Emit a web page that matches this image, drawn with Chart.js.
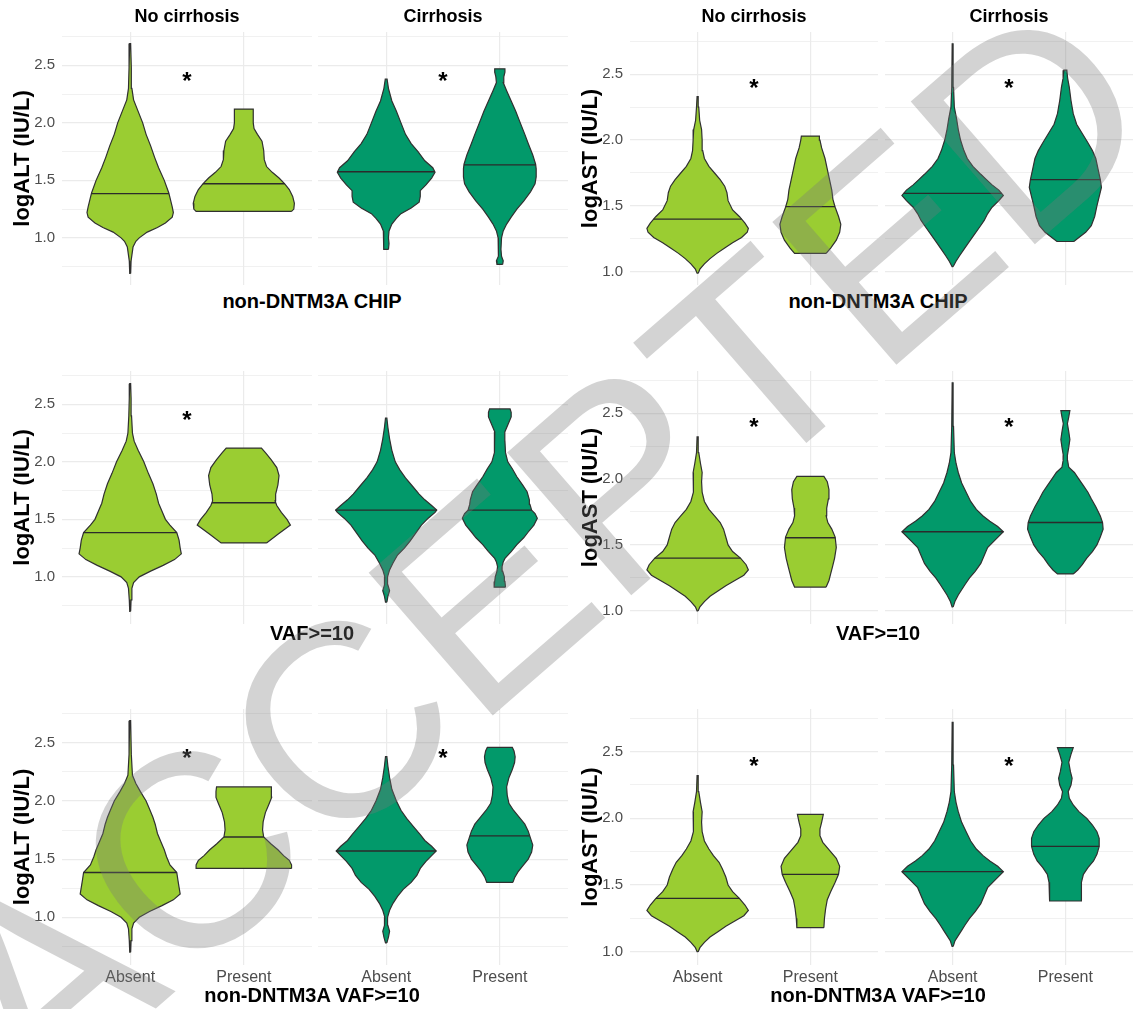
<!DOCTYPE html>
<html>
<head>
<meta charset="utf-8">
<script src="https://cdn.jsdelivr.net/npm/chart.js@4.4.1/dist/chart.umd.min.js"></script>
<style>
  html, body { margin: 0; padding: 0; background: #fff; }
  #fig { position: relative; width: 1135px; height: 1009px; overflow: hidden; font-family: "Liberation Sans", Arial, sans-serif; }
  #fig canvas { position: absolute; }
  .xtitle { position: absolute; font-weight: bold; font-size: 20px; color: #000; transform: translate(-50%, -50%); white-space: nowrap; }
  #stamp { position: absolute; left: 540px; top: 548px; transform: translate(-50%, -50%) rotate(-41deg);
           font-size: 275px; line-height: 1; color: rgba(120, 120, 120, 0.33); white-space: nowrap; pointer-events: none; z-index: 5; }
</style>
</head>
<body>
<div id="fig"></div>
<script>
// facets and groups
const facetNames = ['No cirrhosis', 'Cirrhosis'];
const groupNames = ['Absent', 'Present'];
const panelTitles = ['non-DNTM3A CHIP', 'VAF>=10', 'non-DNTM3A VAF>=10'];
const altTicks = [0.75, 1, 1.25, 1.5, 1.75, 2, 2.25, 2.5, 2.75];
const astTicks = [1, 1.25, 1.5, 1.75, 2, 2.25, 2.5, 2.75];

// violin outlines: [log value, half width in category units]
// logALT, non-DNTM3A CHIP
const altChipNoAbs = [[0.69,0.004],[0.8,0.008],[0.92,0.025],[0.97,0.05],[1.0,0.08],[1.05,0.15],[1.09,0.24],[1.13,0.31],[1.18,0.37],[1.22,0.38],[1.27,0.37],[1.33,0.355],[1.39,0.34],[1.5,0.3],[1.61,0.25],[1.7,0.215],[1.8,0.18],[1.9,0.14],[2.0,0.11],[2.1,0.07],[2.2,0.03],[2.3,0.015],[2.48,0.01],[2.69,0.004]];
const altChipNoPre = [[1.23,0.42],[1.25,0.44],[1.3,0.445],[1.36,0.43],[1.42,0.4],[1.47,0.36],[1.52,0.31],[1.57,0.25],[1.62,0.2],[1.68,0.18],[1.76,0.175],[1.84,0.16],[1.9,0.12],[1.95,0.09],[2.0,0.083],[2.12,0.083]];
const altChipCirAbs = [[0.9,0.02],[0.95,0.025],[1.0,0.02],[1.06,0.025],[1.12,0.05],[1.17,0.09],[1.21,0.13],[1.26,0.22],[1.31,0.29],[1.36,0.3],[1.41,0.3],[1.46,0.35],[1.52,0.4],[1.57,0.43],[1.61,0.41],[1.67,0.34],[1.75,0.28],[1.82,0.22],[1.9,0.17],[2.0,0.13],[2.1,0.09],[2.19,0.05],[2.3,0.02],[2.38,0.008]];
const altChipCirPre = [[0.77,0.025],[0.8,0.03],[0.84,0.015],[0.9,0.01],[1.0,0.015],[1.06,0.03],[1.12,0.06],[1.18,0.1],[1.25,0.15],[1.32,0.21],[1.4,0.27],[1.47,0.31],[1.53,0.32],[1.6,0.32],[1.64,0.315],[1.72,0.29],[1.82,0.25],[1.9,0.22],[2.0,0.18],[2.1,0.14],[2.19,0.1],[2.28,0.06],[2.35,0.03],[2.4,0.035],[2.44,0.045],[2.47,0.045]];
const altChipMedians = [1.385, 1.47, 1.575, 1.635];

// logAST, non-DNTM3A CHIP
const astChipNoAbs = [[0.99,0.005],[1.02,0.02],[1.06,0.06],[1.1,0.11],[1.14,0.17],[1.18,0.24],[1.22,0.31],[1.26,0.39],[1.3,0.44],[1.33,0.45],[1.37,0.42],[1.42,0.37],[1.47,0.31],[1.54,0.27],[1.6,0.26],[1.65,0.24],[1.7,0.2],[1.75,0.15],[1.8,0.1],[1.86,0.06],[1.92,0.045],[2.0,0.04],[2.08,0.035],[2.15,0.018],[2.25,0.01],[2.33,0.005]];
const astChipNoPre = [[1.14,0.14],[1.18,0.18],[1.24,0.23],[1.3,0.26],[1.36,0.27],[1.42,0.25],[1.49,0.22],[1.55,0.2],[1.62,0.19],[1.7,0.17],[1.78,0.15],[1.86,0.13],[1.94,0.1],[2.0,0.085],[2.03,0.08]];
const astChipCirAbs = [[1.04,0.005],[1.08,0.03],[1.12,0.06],[1.17,0.1],[1.22,0.14],[1.28,0.19],[1.34,0.24],[1.39,0.28],[1.44,0.31],[1.49,0.35],[1.54,0.41],[1.58,0.45],[1.62,0.41],[1.66,0.35],[1.7,0.3],[1.74,0.25],[1.8,0.18],[1.86,0.13],[1.92,0.1],[2.0,0.07],[2.08,0.05],[2.16,0.035],[2.25,0.015],[2.4,0.008],[2.73,0.004]];
const astChipCirPre = [[1.23,0.075],[1.26,0.12],[1.3,0.18],[1.35,0.23],[1.42,0.26],[1.5,0.28],[1.57,0.3],[1.64,0.32],[1.7,0.31],[1.78,0.29],[1.86,0.27],[1.92,0.24],[1.98,0.2],[2.05,0.15],[2.12,0.1],[2.2,0.07],[2.3,0.05],[2.4,0.035],[2.47,0.02],[2.53,0.013]];
const astChipMedians = [1.40, 1.495, 1.595, 1.70];

// logALT, VAF>=10
const altVafNoAbs = [[0.7,0.004],[0.8,0.008],[0.9,0.015],[0.95,0.03],[1.0,0.08],[1.05,0.18],[1.1,0.29],[1.15,0.39],[1.2,0.45],[1.25,0.44],[1.32,0.43],[1.385,0.41],[1.45,0.35],[1.5,0.31],[1.57,0.28],[1.64,0.25],[1.72,0.23],[1.81,0.2],[1.9,0.16],[2.0,0.12],[2.1,0.07],[2.18,0.035],[2.25,0.02],[2.4,0.012],[2.55,0.008],[2.68,0.004]];
const altVafNoPre = [[1.295,0.2],[1.37,0.3],[1.45,0.41],[1.5,0.38],[1.56,0.33],[1.62,0.29],[1.66,0.275],[1.72,0.28],[1.8,0.3],[1.88,0.31],[1.95,0.29],[2.02,0.24],[2.08,0.19],[2.12,0.155]];
const altVafCirAbs = [[0.78,0.006],[0.83,0.015],[0.88,0.03],[0.93,0.015],[1.0,0.012],[1.06,0.03],[1.12,0.06],[1.19,0.1],[1.25,0.16],[1.31,0.21],[1.38,0.26],[1.45,0.31],[1.51,0.37],[1.56,0.43],[1.58,0.445],[1.62,0.4],[1.67,0.34],[1.72,0.29],[1.79,0.23],[1.86,0.17],[1.93,0.12],[2.0,0.08],[2.1,0.05],[2.2,0.03],[2.3,0.015],[2.38,0.006]];
const altVafCirPre = [[0.91,0.05],[0.96,0.045],[1.0,0.04],[1.05,0.025],[1.09,0.02],[1.13,0.03],[1.16,0.045],[1.22,0.1],[1.28,0.15],[1.34,0.21],[1.39,0.25],[1.45,0.3],[1.51,0.33],[1.55,0.31],[1.58,0.28],[1.63,0.265],[1.67,0.26],[1.74,0.24],[1.8,0.2],[1.87,0.15],[1.94,0.11],[2.0,0.07],[2.08,0.05],[2.18,0.045],[2.26,0.044],[2.32,0.07],[2.39,0.1],[2.43,0.1],[2.46,0.09]];
const altVafMedians = [1.385, 1.645, 1.58, 1.58];

// logAST, VAF>=10
const astVafNoAbs = [[1.0,0.005],[1.03,0.02],[1.07,0.06],[1.11,0.11],[1.15,0.18],[1.19,0.25],[1.23,0.33],[1.27,0.41],[1.31,0.45],[1.35,0.43],[1.4,0.38],[1.45,0.31],[1.5,0.27],[1.56,0.25],[1.62,0.23],[1.67,0.2],[1.72,0.15],[1.77,0.1],[1.83,0.06],[1.9,0.04],[1.98,0.035],[2.05,0.04],[2.12,0.025],[2.2,0.01],[2.32,0.005]];
const astVafNoPre = [[1.18,0.14],[1.23,0.165],[1.28,0.18],[1.33,0.195],[1.4,0.215],[1.48,0.23],[1.56,0.22],[1.62,0.19],[1.67,0.155],[1.72,0.14],[1.78,0.145],[1.85,0.16],[1.92,0.165],[1.98,0.15],[2.02,0.12]];
const astVafCirAbs = [[1.03,0.005],[1.07,0.02],[1.12,0.05],[1.16,0.08],[1.2,0.11],[1.25,0.15],[1.3,0.2],[1.36,0.25],[1.42,0.28],[1.48,0.31],[1.54,0.38],[1.6,0.45],[1.64,0.4],[1.68,0.33],[1.72,0.27],[1.77,0.21],[1.83,0.16],[1.9,0.12],[1.97,0.08],[2.05,0.05],[2.12,0.03],[2.2,0.015],[2.4,0.008],[2.73,0.004]];
const astVafCirPre = [[1.28,0.07],[1.31,0.11],[1.35,0.15],[1.4,0.19],[1.45,0.24],[1.5,0.28],[1.56,0.31],[1.62,0.335],[1.67,0.33],[1.72,0.31],[1.79,0.27],[1.85,0.23],[1.9,0.2],[1.95,0.16],[2.0,0.12],[2.05,0.08],[2.09,0.03],[2.14,0.02],[2.18,0.018],[2.24,0.03],[2.3,0.04],[2.36,0.03],[2.42,0.018],[2.47,0.03],[2.52,0.04]];
const astVafMedians = [1.40, 1.555, 1.60, 1.67];

// logALT, non-DNTM3A VAF>=10
const altNdvNoAbs = [[0.7,0.004],[0.8,0.008],[0.9,0.015],[0.95,0.03],[1.0,0.08],[1.05,0.17],[1.1,0.28],[1.15,0.38],[1.2,0.44],[1.26,0.43],[1.32,0.42],[1.385,0.41],[1.45,0.35],[1.52,0.32],[1.58,0.3],[1.65,0.27],[1.72,0.24],[1.8,0.22],[1.86,0.2],[1.93,0.17],[2.0,0.14],[2.08,0.09],[2.15,0.05],[2.22,0.02],[2.4,0.01],[2.69,0.004]];
const altNdvNoPre = [[1.42,0.42],[1.45,0.42],[1.49,0.4],[1.53,0.35],[1.58,0.3],[1.63,0.24],[1.69,0.175],[1.75,0.165],[1.82,0.17],[1.9,0.19],[1.97,0.22],[2.03,0.245],[2.08,0.245],[2.12,0.24]];
const altNdvCirAbs = [[0.78,0.006],[0.83,0.02],[0.88,0.03],[0.93,0.015],[1.0,0.012],[1.06,0.03],[1.12,0.06],[1.18,0.1],[1.24,0.15],[1.3,0.22],[1.36,0.27],[1.42,0.3],[1.48,0.35],[1.53,0.4],[1.57,0.44],[1.61,0.4],[1.66,0.34],[1.71,0.3],[1.78,0.24],[1.85,0.18],[1.92,0.13],[2.0,0.09],[2.1,0.05],[2.2,0.03],[2.3,0.015],[2.38,0.006]];
const altNdvCirPre = [[1.3,0.115],[1.34,0.13],[1.39,0.16],[1.44,0.2],[1.5,0.25],[1.56,0.28],[1.62,0.29],[1.68,0.27],[1.74,0.25],[1.8,0.22],[1.86,0.17],[1.92,0.12],[1.98,0.08],[2.05,0.065],[2.12,0.06],[2.2,0.08],[2.27,0.11],[2.33,0.13],[2.38,0.135],[2.43,0.125],[2.46,0.11]];
const altNdvMedians = [1.385, 1.69, 1.57, 1.70];

// logAST, non-DNTM3A VAF>=10
const astNdvNoAbs = [[1.0,0.005],[1.03,0.02],[1.07,0.06],[1.11,0.11],[1.15,0.18],[1.19,0.25],[1.23,0.33],[1.27,0.41],[1.31,0.45],[1.35,0.42],[1.4,0.37],[1.45,0.31],[1.5,0.27],[1.56,0.25],[1.62,0.22],[1.67,0.19],[1.72,0.14],[1.77,0.1],[1.83,0.06],[1.9,0.04],[1.97,0.035],[2.05,0.04],[2.12,0.025],[2.2,0.01],[2.32,0.005]];
const astNdvNoPre = [[1.18,0.12],[1.25,0.125],[1.32,0.135],[1.39,0.15],[1.45,0.18],[1.52,0.22],[1.58,0.25],[1.64,0.26],[1.7,0.23],[1.76,0.17],[1.82,0.11],[1.87,0.085],[1.92,0.085],[1.97,0.1],[2.03,0.115]];
const astNdvCirAbs = [[1.04,0.005],[1.08,0.02],[1.12,0.05],[1.16,0.08],[1.2,0.11],[1.25,0.15],[1.3,0.2],[1.36,0.25],[1.42,0.28],[1.48,0.31],[1.54,0.38],[1.6,0.45],[1.64,0.4],[1.68,0.33],[1.72,0.27],[1.77,0.21],[1.83,0.16],[1.9,0.12],[1.97,0.08],[2.05,0.05],[2.12,0.03],[2.2,0.015],[2.4,0.008],[2.72,0.004]];
const astNdvCirPre = [[1.38,0.14],[1.45,0.14],[1.52,0.145],[1.58,0.16],[1.63,0.2],[1.68,0.25],[1.73,0.28],[1.79,0.3],[1.85,0.3],[1.9,0.28],[1.95,0.24],[2.0,0.19],[2.05,0.12],[2.1,0.07],[2.15,0.035],[2.2,0.025],[2.25,0.05],[2.3,0.06],[2.35,0.045],[2.42,0.03],[2.48,0.05],[2.53,0.07]];
const astNdvMedians = [1.40, 1.58, 1.60, 1.79];

// significance stars per facet (null = none)
const altStars = [[2.42, 2.42], [2.42, null], [2.42, 2.42]];
const astStars = [[2.44, 2.44], [2.44, 2.44], [2.44, 2.44]];

const lightGreen = '#9ACD32';
const darkGreen = '#02996A';
const gridColor = '#EBEBEB';
const fontFamily = '"Liberation Sans", Arial, sans-serif';

Chart.defaults.font.family = fontFamily;

// half width of a violin at a given value (linear between outline points)
function widthAt(profile, v) {
  for (let i = 1; i < profile.length; i++) {
    const [v0, w0] = profile[i - 1];
    const [v1, w1] = profile[i];
    if (v >= v0 && v <= v1) return w0 + (w1 - w0) * (v - v0) / (v1 - v0);
  }
  return 0;
}

function outline(center, profile) {
  const right = profile.map(([v, w]) => ({x: center + w, y: v}));
  const left = profile.slice().reverse().map(([v, w]) => ({x: center - w, y: v}));
  return right.concat(left, [right[0]]);
}

// "*" above the pair of violins in a facet
const starPlugin = {
  id: 'stars',
  afterDatasetsDraw(chart, args, opts) {
    if (opts.level == null) return;
    const {ctx, scales} = chart;
    ctx.save();
    ctx.font = 'bold 24px ' + fontFamily;
    ctx.fillStyle = '#000';
    ctx.textAlign = 'center';
    ctx.textBaseline = 'alphabetic';
    ctx.fillText('*', scales.x.getPixelForValue(1.5), scales.y.getPixelForValue(opts.level) + 14);
    ctx.restore();
  }
};

// facet strip label centred over the plot area
const stripPlugin = {
  id: 'strip',
  afterDraw(chart, args, opts) {
    if (!opts.text) return;
    const {ctx, chartArea} = chart;
    ctx.save();
    ctx.font = 'bold 18px ' + fontFamily;
    ctx.fillStyle = '#000';
    ctx.textAlign = 'center';
    ctx.textBaseline = 'middle';
    ctx.fillText(opts.text, (chartArea.left + chartArea.right) / 2, chartArea.top - 15);
    ctx.restore();
  }
};

const fig = document.getElementById('fig');

function facetChart(box, f) {
  const canvas = document.createElement('canvas');
  canvas.width = box.w;
  canvas.height = box.h;
  canvas.style.left = box.x + 'px';
  canvas.style.top = box.y + 'px';
  fig.appendChild(canvas);

  const datasets = [];
  f.violins.forEach((profile, i) => {
    const c = i + 1;
    const m = f.medians[i];
    const wm = widthAt(profile, m);
    datasets.push({
      data: [{x: c - wm, y: m}, {x: c + wm, y: m}],
      showLine: true, borderColor: '#2b2b2b', borderWidth: 1.4,
      pointRadius: 0, fill: false, order: 0
    });
    datasets.push({
      data: outline(c, profile),
      showLine: true, borderColor: '#303030', borderWidth: 1.2,
      backgroundColor: f.color, pointRadius: 0, fill: 'shape', tension: 0, order: 1
    });
  });

  return new Chart(canvas, {
    type: 'scatter',
    data: {datasets},
    plugins: [starPlugin, stripPlugin],
    options: {
      responsive: false,
      animation: false,
      events: [],
      layout: {padding: {top: box.strip, left: 0, right: 0, bottom: 0}},
      plugins: {
        legend: {display: false},
        tooltip: {enabled: false},
        stars: {level: f.star},
        strip: {text: f.strip}
      },
      scales: {
        x: {
          type: 'linear', min: 0.4, max: 2.6,
          afterBuildTicks: s => { s.ticks = [{value: 1}, {value: 2}]; },
          afterFit: s => { if (f.xLabels) s.height = 30; },
          grid: {color: gridColor, lineWidth: 1.2, drawTicks: false},
          border: {display: false},
          ticks: {
            display: !!f.xLabels, padding: 3, color: '#4d4d4d', font: {size: 16},
            autoSkip: false, maxRotation: 0,
            callback: v => groupNames[v - 1]
          }
        },
        y: {
          type: 'linear', min: f.yMin, max: f.yMax,
          afterBuildTicks: s => { s.ticks = f.ticks.map(v => ({value: v})); },
          afterFit: s => {
            if (f.yTitle) s.width = box.axisW;
            s.paddingTop = 0;
            s.paddingBottom = 0;
          },
          grid: {
            color: gridColor, drawTicks: false,
            lineWidth: c => (c.tick && c.tick.value % 0.5 === 0) ? 1.2 : 0.7
          },
          border: {display: false},
          title: {
            display: !!f.yTitle, text: f.yTitle || '', color: '#000',
            font: {size: 22, weight: 'bold'}, padding: {top: 9.8, bottom: 0}
          },
          ticks: {
            display: !!f.yTitle, padding: 7, color: '#4d4d4d', font: {size: 15},
            autoSkip: false,
            callback: v => (v % 0.5 === 0) ? v.toFixed(1) : ''
          }
        }
      }
    }
  });
}

// panel layout: plot area of each row and facet spans of each column
const rowBoxes = [
  {top: 32, bottom: 285, titleY: 301},
  {top: 371, bottom: 624, titleY: 633},
  {top: 709, bottom: 965, titleY: 995}
];
const colBoxes = [
  {facets: [[62, 312], [318, 568]], axisW: 62, titleX: 312},
  {facets: [[630, 878], [885, 1133]], axisW: 62, titleX: 878}
];

const measures = [
  {
    yTitle: 'logALT (IU/L)', yMin: 0.59, yMax: 2.79, ticks: altTicks, stars: altStars,
    rows: [
      [[altChipNoAbs, altChipNoPre], [altChipCirAbs, altChipCirPre], altChipMedians],
      [[altVafNoAbs, altVafNoPre], [altVafCirAbs, altVafCirPre], altVafMedians],
      [[altNdvNoAbs, altNdvNoPre], [altNdvCirAbs, altNdvCirPre], altNdvMedians]
    ]
  },
  {
    yTitle: 'logAST (IU/L)', yMin: 0.9, yMax: 2.82, ticks: astTicks, stars: astStars,
    rows: [
      [[astChipNoAbs, astChipNoPre], [astChipCirAbs, astChipCirPre], astChipMedians],
      [[astVafNoAbs, astVafNoPre], [astVafCirAbs, astVafCirPre], astVafMedians],
      [[astNdvNoAbs, astNdvNoPre], [astNdvCirAbs, astNdvCirPre], astNdvMedians]
    ]
  }
];

measures.forEach((ms, ci) => {
  const col = colBoxes[ci];
  rowBoxes.forEach((row, ri) => {
    const [noCir, cir, medians] = ms.rows[ri];
    const strip = ri === 0 ? 32 : 0;
    const xAxisH = ri === 2 ? 30 : 0;
    [noCir, cir].forEach((violins, fi) => {
      const [x0, x1] = col.facets[fi];
      const axisW = fi === 0 ? col.axisW : 0;
      const box = {
        x: x0 - axisW, y: row.top - strip,
        w: x1 - x0 + axisW, h: row.bottom - row.top + strip + xAxisH,
        axisW, strip
      };
      facetChart(box, {
        violins,
        medians: medians.slice(fi * 2, fi * 2 + 2),
        color: fi === 0 ? lightGreen : darkGreen,
        strip: ri === 0 ? facetNames[fi] : null,
        yTitle: fi === 0 ? ms.yTitle : null,
        xLabels: ri === 2,
        yMin: ms.yMin, yMax: ms.yMax, ticks: ms.ticks,
        star: ms.stars[ri][fi]
      });
    });
    const t = document.createElement('div');
    t.className = 'xtitle';
    t.textContent = panelTitles[ri];
    t.style.left = col.titleX + 'px';
    t.style.top = row.titleY + 'px';
    fig.appendChild(t);
  });
});

const stamp = document.createElement('div');
stamp.id = 'stamp';
stamp.textContent = 'ACCEPTED';
fig.appendChild(stamp);
</script>
</body>
</html>
